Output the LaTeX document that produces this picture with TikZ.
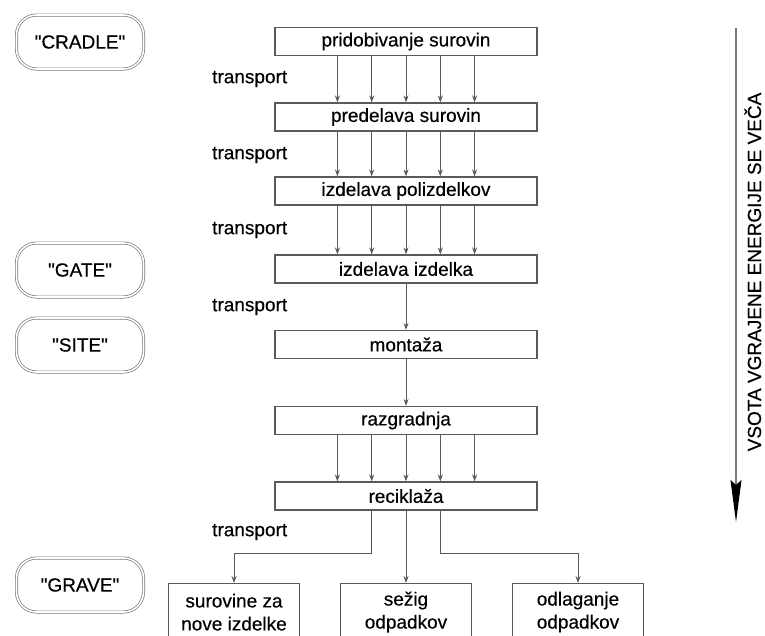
\documentclass[tikz,border=0pt]{standalone}
\usepackage{fontspec}
\setmainfont{Liberation Sans}[FakeBold=0.4]
\usetikzlibrary{arrows.meta}
\definecolor{linegray}{HTML}{5A5A5A}
\definecolor{framegray}{HTML}{7A7A7A}
\newcommand{\phasename}[1]{\textquotedbl#1\textquotedbl}
\begin{document}
\begin{tikzpicture}[x=1pt,y=-1pt,
  font=\fontsize{19}{23}\selectfont,
  stage/.style={draw=linegray,line width=1.2pt,minimum width=262pt,minimum height=28pt,inner sep=0pt},
  endbox/.style={draw=linegray,line width=1.2pt,minimum width=131pt,minimum height=57pt,inner sep=0pt,align=center,anchor=north},
  phase/.style={draw=framegray,double=white,double distance=1.6pt,line width=0.7pt,rounded corners=20pt,minimum width=127pt,minimum height=54pt,inner sep=0pt},
  flow/.style={draw=linegray,line width=1pt,-{Stealth[length=7pt,width=5pt]}},
  note/.style={anchor=west,inner sep=0pt}]
\clip (0,0) rectangle (765,635);

% life-cycle phases
\node[phase] (cradle) at (80,42)  {\phasename{CRADLE}};
\node[phase] (gate)   at (80,270) {\phasename{GATE}};
\node[phase] (site)   at (80,345) {\phasename{SITE}};
\node[phase] (grave)  at (80,585) {\phasename{GRAVE}};

% process stages
\node[stage] (s1) at (406,41.5)  {pridobivanje surovin};
\node[stage] (s2) at (406,117)   {predelava surovin};
\node[stage] (s3) at (406,191)   {izdelava polizdelkov};
\node[stage] (s4) at (406,269)   {izdelava izdelka};
\node[stage] (s5) at (406,344.5) {montaža};
\node[stage] (s6) at (406,420.5) {razgradnja};
\node[stage] (s7) at (406,496)   {reciklaža};

% end-of-life options
\node[endbox] (e1) at (234,583) {surovine za\\nove izdelke};
\node[endbox] (e2) at (406,583) {sežig\\odpadkov};
\node[endbox] (e3) at (578,583) {odlaganje\\odpadkov};

% transport labels
\node[note] (t1) at (212,79)  {transport};
\node[note] (t2) at (212,155) {transport};
\node[note] (t3) at (212,230) {transport};
\node[note] (t4) at (212,307) {transport};
\node[note] (t5) at (212,532) {transport};

% material flows
\foreach \a/\b in {s1/s2,s2/s3,s3/s4,s6/s7}
  \foreach \d in {-2,...,2}
    \draw[flow] ([xshift=\d*34.3pt]\a.south) -- ([xshift=\d*34.3pt]\b.north);
\draw[flow] (s4) -- (s5);
\draw[flow] (s5) -- (s6);
\draw[flow] ([xshift=-34.3pt]s7.south) -- ++(0,43) -| (e1.north);
\draw[flow] (s7) -- (e2);
\draw[flow] ([xshift=34.3pt]s7.south) -- ++(0,43) -| (e3.north);

% embodied energy axis
\coordinate (etop) at (736,28);
\coordinate (ebot) at (736,522);
\draw[draw=framegray,line width=1.3pt,-{Stealth[length=42pt,width=11pt,inset=5pt,black]}] (etop) -- (ebot);
\node[rotate=90,inner sep=0pt,anchor=base] (energy) at (761,272) {VSOTA VGRAJENE ENERGIJE SE VEČA};
\end{tikzpicture}
\end{document}
